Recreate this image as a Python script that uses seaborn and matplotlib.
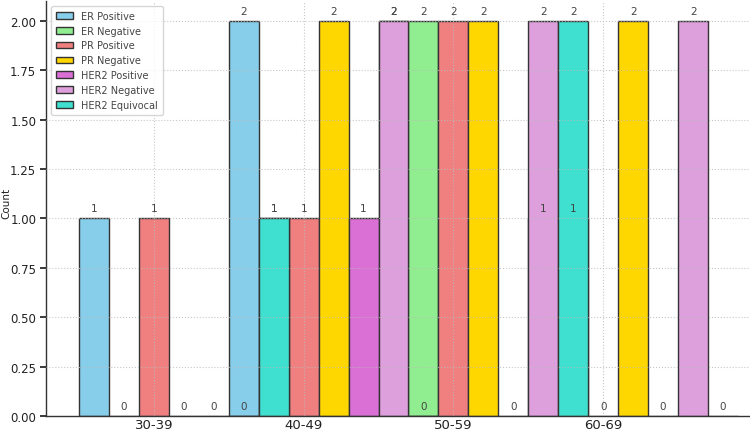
import numpy as np
import matplotlib
matplotlib.use("Agg")
import matplotlib.pyplot as plt
import seaborn as sns

# age groups and receptor status counts
age_groups = ["30-39", "40-49", "50-59", "60-69"]
series_names = ["ER Positive", "ER Negative", "PR Positive", "PR Negative",
                "HER2 Positive", "HER2 Negative", "HER2 Equivocal"]
er_pos = [1, 2, 2, 1]
er_neg = [0, 1, 2, 1]
pr_pos = [1, 1, 2, 0]
pr_neg = [0, 2, 2, 2]
her2_pos = [0, 1, 0, 0]
her2_neg = [0, 2, 2, 2]
her2_eq = [1, 0, 2, 0]
counts = [er_pos, er_neg, pr_pos, pr_neg, her2_pos, her2_neg, her2_eq]
colors = ["skyblue", "lightgreen", "lightcoral", "gold",
          "orchid", "plum", "turquoise"]

sns.set_theme(style="whitegrid")
plt.rcParams['font.family'] = ['DejaVu Sans']

fig = plt.figure(figsize=(7.5, 4.35), dpi=100)
ax = fig.add_axes([46 / 750, 18 / 435, 1 - 46 / 750, 1 - 20 / 435])

x = np.arange(len(age_groups))
width = 0.2
for i, (name, vals, col) in enumerate(zip(series_names, counts, colors)):
    pos = x - 2 * width + i * width
    ax.bar(pos, vals, width, label=name, color=col, edgecolor="#333333", linewidth=1)
    for px, v in zip(pos, vals):
        ax.text(px, v + 0.025, str(v), ha="center", va="bottom", fontsize=7.5, color="#444444")

ax.set_xticks(x)
ax.set_xticklabels(age_groups, fontsize=9.5, color="#222222")
ax.tick_params(axis="x", length=3, direction="in", pad=1.5)
ax.set_xlim(-0.72, 3.98)
ax.set_ylim(0, 2.1)
ax.yaxis.set_major_formatter(matplotlib.ticker.FormatStrFormatter("%.2f"))
ax.tick_params(axis="y", labelsize=8.5, colors="#222222", length=4, left=True, pad=3)
ax.set_ylabel("Count", fontsize=7.5, color="#222222")
ax.yaxis.set_label_coords(-0.049, 0.515)

ax.set_axisbelow(False)
ax.grid(True, linestyle=":", color="#bbbbbb", linewidth=0.8, alpha=0.8)
sns.despine(ax=ax)
for s in ["left", "bottom"]:
    ax.spines[s].set_color("#333333")
    ax.spines[s].set_linewidth(1)

leg = ax.legend(loc="upper left", fontsize=7, frameon=True, handlelength=1.8,
                borderpad=0.5, labelspacing=0.5)
for t in leg.get_texts():
    t.set_color("#444444")

fig.savefig("out.png", dpi=100)
